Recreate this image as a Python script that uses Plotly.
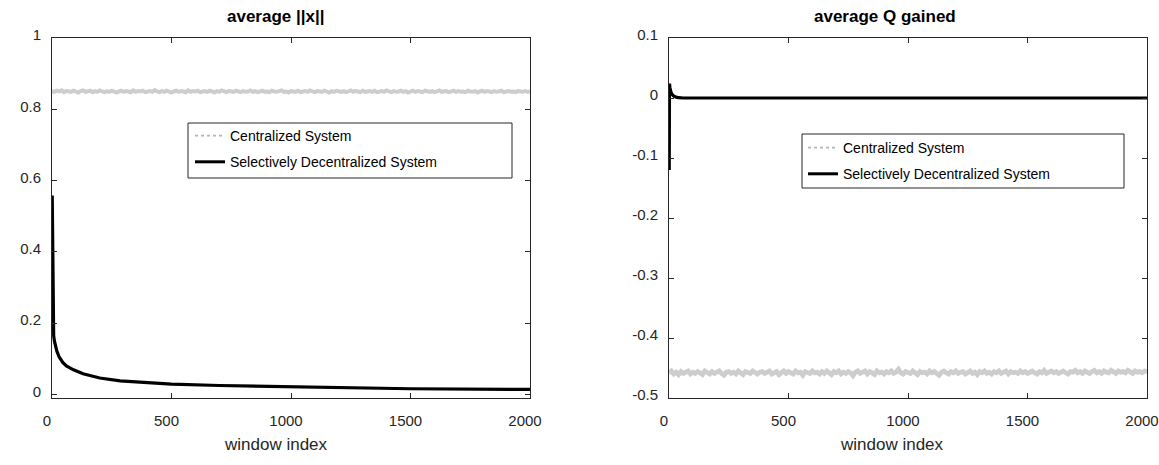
import plotly.graph_objects as go

# ---- data -------------------------------------------------------------
window_step = 10
cen_x = list(range(0, 2001, window_step))

cen_norm = [
    0.851, 0.849, 0.852, 0.850, 0.853, 0.848, 0.851, 0.850, 0.849, 0.852,
    0.850, 0.847, 0.851, 0.853, 0.849, 0.850, 0.852, 0.848, 0.851, 0.849,
    0.853, 0.850, 0.848, 0.851, 0.849, 0.852, 0.850, 0.847, 0.850, 0.852,
    0.849, 0.851, 0.850, 0.848, 0.853, 0.849, 0.851, 0.850, 0.852, 0.848,
    0.850, 0.851, 0.849, 0.854, 0.850, 0.848, 0.851, 0.849, 0.852, 0.850,
    0.847, 0.850, 0.852, 0.849, 0.851, 0.850, 0.848, 0.853, 0.849, 0.851,
    0.850, 0.852, 0.848, 0.850, 0.851, 0.849, 0.852, 0.850, 0.847, 0.851,
    0.849, 0.853, 0.850, 0.848, 0.851, 0.850, 0.849, 0.852, 0.850, 0.848,
    0.851, 0.849, 0.850, 0.853, 0.849, 0.851, 0.848, 0.850, 0.852, 0.849,
    0.850, 0.848, 0.852, 0.850, 0.849, 0.851, 0.853, 0.849, 0.850, 0.847,
    0.851, 0.850, 0.849, 0.852, 0.848, 0.850, 0.851, 0.849, 0.853, 0.850,
    0.848, 0.851, 0.850, 0.849, 0.852, 0.850, 0.847, 0.851, 0.849, 0.852,
    0.850, 0.849, 0.851, 0.848, 0.850, 0.853, 0.849, 0.851, 0.850, 0.848,
    0.852, 0.849, 0.850, 0.851, 0.849, 0.852, 0.848, 0.850, 0.851, 0.849,
    0.853, 0.850, 0.848, 0.851, 0.849, 0.850, 0.852, 0.849, 0.851, 0.847,
    0.850, 0.852, 0.849, 0.851, 0.850, 0.848, 0.852, 0.850, 0.849, 0.851,
    0.848, 0.850, 0.853, 0.849, 0.850, 0.851, 0.848, 0.850, 0.852, 0.849,
    0.851, 0.849, 0.850, 0.848, 0.852, 0.850, 0.849, 0.851, 0.847, 0.850,
    0.852, 0.849, 0.851, 0.850, 0.848, 0.851, 0.849, 0.850, 0.852, 0.848,
    0.850, 0.851, 0.849, 0.850, 0.848, 0.851, 0.850, 0.849, 0.851, 0.849,
    0.850,
]

cen_q = [
    -0.458, -0.455, -0.460, -0.457, -0.461, -0.456, -0.459, -0.457, -0.455, -0.460,
    -0.457, -0.459, -0.456, -0.458, -0.461, -0.455, -0.458, -0.460, -0.456, -0.459,
    -0.457, -0.455, -0.459, -0.462, -0.457, -0.456, -0.459, -0.457, -0.460, -0.455,
    -0.458, -0.461, -0.456, -0.458, -0.459, -0.455, -0.458, -0.460, -0.457, -0.456,
    -0.459, -0.457, -0.455, -0.460, -0.458, -0.456, -0.461, -0.457, -0.455, -0.459,
    -0.456, -0.458, -0.460, -0.455, -0.458, -0.457, -0.462, -0.456, -0.458, -0.459,
    -0.455, -0.458, -0.457, -0.460, -0.456, -0.459, -0.455, -0.458, -0.461, -0.456,
    -0.458, -0.455, -0.460, -0.457, -0.459, -0.456, -0.458, -0.463, -0.457, -0.455,
    -0.459, -0.457, -0.455, -0.460, -0.456, -0.458, -0.461, -0.455, -0.458, -0.457,
    -0.460, -0.456, -0.458, -0.455, -0.459, -0.457, -0.452, -0.458, -0.460, -0.456,
    -0.457, -0.459, -0.455, -0.458, -0.461, -0.456, -0.458, -0.457, -0.460, -0.455,
    -0.458, -0.456, -0.459, -0.462, -0.457, -0.455, -0.458, -0.460, -0.456, -0.458,
    -0.455, -0.459, -0.457, -0.456, -0.460, -0.458, -0.455, -0.459, -0.457, -0.461,
    -0.456, -0.458, -0.455, -0.459, -0.457, -0.460, -0.456, -0.458, -0.455, -0.459,
    -0.457, -0.455, -0.460, -0.456, -0.458, -0.457, -0.459, -0.455, -0.458, -0.456,
    -0.459, -0.457, -0.455, -0.458, -0.460, -0.456, -0.458, -0.454, -0.459, -0.457,
    -0.455, -0.458, -0.456, -0.459, -0.457, -0.455, -0.458, -0.460, -0.456, -0.457,
    -0.454, -0.458, -0.456, -0.459, -0.455, -0.457, -0.459, -0.456, -0.454, -0.458,
    -0.456, -0.459, -0.455, -0.457, -0.458, -0.454, -0.457, -0.459, -0.455, -0.457,
    -0.456, -0.458, -0.454, -0.457, -0.459, -0.455, -0.457, -0.456, -0.458, -0.455,
    -0.456,
]

dec_norm_x = [1, 2, 3, 4, 5, 7, 10, 13, 20, 30, 45, 60, 90, 130, 160, 200,
              285, 400, 500, 700, 1000, 1500, 2000]
dec_norm = [0.558, 0.42, 0.30, 0.23, 0.195, 0.165, 0.15, 0.14, 0.122, 0.105,
            0.09, 0.08, 0.069, 0.058, 0.052, 0.046, 0.038, 0.032, 0.029,
            0.025, 0.021, 0.016, 0.014]

dec_q_x = [1, 2, 3, 4, 6, 8, 10, 15, 20, 30, 40, 60, 500, 1000, 1500, 2000]
dec_q = [-0.12, 0.024, 0.02, 0.017, 0.013, 0.01, 0.008, 0.005, 0.003,
         0.0015, 0.0005, 0.0, 0.0, 0.0, 0.0, 0.0]

norm_ticks = [0, 0.2, 0.4, 0.6, 0.8, 1]
norm_ticktext = ["0", "0.2", "0.4", "0.6", "0.8", "1"]
q_ticks = [-0.5, -0.4, -0.3, -0.2, -0.1, 0, 0.1]
q_ticktext = ["-0.5", "-0.4", "-0.3", "-0.2", "-0.1", "0", "0.1"]
x_ticks = [0, 500, 1000, 1500, 2000]

titles = ["average ||x||", "average Q gained"]
x_label = "window index"
series_names = ["Centralized System", "Selectively Decentralized System"]

# ---- styling ----------------------------------------------------------
FONT = "Liberation Sans, Arial, sans-serif"
INK = "#262626"
GREY = "#cdcdcd"
W, H = 1159, 465

fig = go.Figure()

# left panel
fig.add_trace(go.Scatter(x=cen_x, y=cen_norm, mode="lines",
                         line=dict(color=GREY, width=4),
                         showlegend=False, xaxis="x", yaxis="y"))
fig.add_trace(go.Scatter(x=dec_norm_x, y=dec_norm, mode="lines",
                         line=dict(color="black", width=3.2),
                         showlegend=False, xaxis="x", yaxis="y"))
# right panel
fig.add_trace(go.Scatter(x=cen_x, y=cen_q, mode="lines",
                         line=dict(color=GREY, width=4.8),
                         showlegend=False, xaxis="x2", yaxis="y2"))
fig.add_trace(go.Scatter(x=dec_q_x, y=dec_q, mode="lines",
                         line=dict(color="black", width=3.2),
                         showlegend=False, xaxis="x2", yaxis="y2"))

# legend entries (one legend per panel)
for leg in ["legend", "legend2"]:
    fig.add_trace(go.Scatter(x=[None], y=[None], mode="lines",
                             name=series_names[0], legend=leg,
                             legendgroup=leg + "a",
                             line=dict(color="#b4b4b4", width=1.6, dash="dot")))
    fig.add_trace(go.Scatter(x=[None], y=[None], mode="lines",
                             name=series_names[1], legend=leg,
                             legendgroup=leg + "b",
                             line=dict(color="black", width=3)))

px_x = lambda p: p / W
px_y = lambda p: 1 - p / H

axis_common = dict(
    showgrid=False, zeroline=False, showline=True, linecolor=INK, linewidth=1,
    mirror="allticks", ticks="inside", ticklen=5, tickwidth=1, tickcolor=INK,
    tickfont=dict(family=FONT, size=15, color=INK), automargin=False,
    ticklabeloverflow="allow",
)

left_dom = [px_x(52), px_x(530)]
right_dom = [px_x(669), px_x(1147)]
y_dom = [px_y(398), px_y(38)]

xaxis_common = dict(axis_common, range=[0, 2000], tickvals=x_ticks,
                    ticklabelstandoff=9, ticklabelshift=-5)

yaxis_common = dict(axis_common, ticklabelstandoff=7, ticklabelshift=-3)

legend_common = dict(
    bgcolor="rgba(0,0,0,0)", borderwidth=0, itemwidth=30,
    font=dict(family=FONT, size=14, color="black"),
    tracegroupgap=5, xanchor="left", yanchor="top",
)


def label(text, x_px, y_px, size, bold=False):
    return dict(text="<b>%s</b>" % text if bold else text,
                xref="paper", yref="paper", x=px_x(x_px), y=px_y(y_px),
                showarrow=False, xanchor="left", yanchor="middle",
                font=dict(family=FONT, size=size,
                          color="black" if bold else INK))


fig.update_layout(
    width=W, height=H, margin=dict(l=0, r=0, t=0, b=0, autoexpand=False),
    paper_bgcolor="white", plot_bgcolor="white",
    xaxis=dict(xaxis_common, domain=left_dom, anchor="y"),
    yaxis=dict(yaxis_common, domain=y_dom, anchor="x", range=[-0.01, 1],
               tickvals=norm_ticks, ticktext=norm_ticktext),
    xaxis2=dict(xaxis_common, domain=right_dom, anchor="y2"),
    yaxis2=dict(yaxis_common, domain=y_dom, anchor="x2", range=[-0.5, 0.1],
                tickvals=q_ticks, ticktext=q_ticktext),
    legend=dict(legend_common, x=px_x(190), y=px_y(120)),
    legend2=dict(legend_common, x=px_x(803), y=px_y(132)),
    shapes=[
        dict(type="rect", xref="paper", yref="paper",
             x0=px_x(188), x1=px_x(512), y0=px_y(178), y1=px_y(123),
             line=dict(color=INK, width=1), fillcolor="rgba(0,0,0,0)"),
        dict(type="rect", xref="paper", yref="paper",
             x0=px_x(802), x1=px_x(1124), y0=px_y(188), y1=px_y(134),
             line=dict(color=INK, width=1), fillcolor="rgba(0,0,0,0)"),
    ],
    annotations=[
        label(titles[0], 225, 16, 17, bold=True),
        label(titles[1], 812, 16, 17, bold=True),
        label(x_label, 222, 444, 17),
        label(x_label, 838, 444, 17),
    ],
)

fig.write_html("out.html")
